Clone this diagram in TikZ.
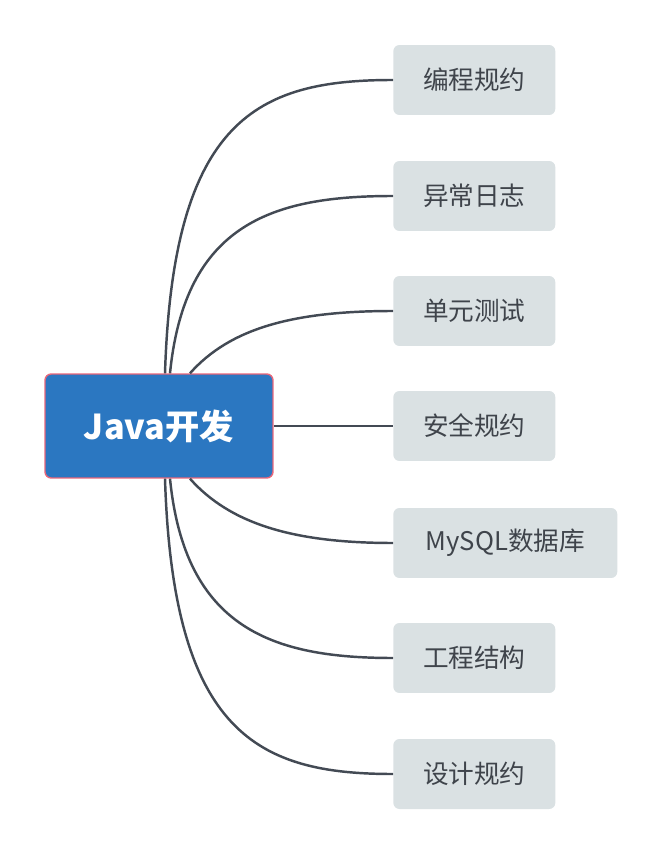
\documentclass[tikz,border=0pt]{standalone}
\usepackage{fontspec}
\setmainfont{Noto Sans CJK SC}
\definecolor{rootblue}{HTML}{2B77C1}
\definecolor{rootedge}{HTML}{E8667A}
\definecolor{leafgray}{HTML}{DAE1E3}
\definecolor{textgray}{HTML}{3F444B}
\definecolor{linegray}{HTML}{434A54}
\begin{document}
\begin{tikzpicture}[x=0.02cm, y=-0.02cm,
  rootbox/.style={fill=rootblue, draw=rootedge, line width=0.8pt, rounded corners=3.5pt,
    minimum width=4.56cm, minimum height=2.08cm, text=white, font=\bfseries\fontsize{19.5}{22}\selectfont},
  leaf/.style={fill=leafgray, rounded corners=3.5pt, anchor=west,
    minimum width=3.24cm, minimum height=1.4cm, text=textgray, font=\fontsize{14.6}{17}\selectfont},
  branch/.style={draw=linegray, line width=1.4pt}]
  \useasboundingbox (0,0) rectangle (662,854);
  \node[rootbox] (root) at (159,426) {Java开发};
  \node[leaf] (n1) at (393,80) {编程规约};
  \node[leaf] (n2) at (393,196) {异常日志};
  \node[leaf] (n3) at (393,311) {单元测试};
  \node[leaf] (n4) at (393,426) {安全规约};
  \node[leaf, minimum width=4.48cm] (n5) at (393,543) {MySQL数据库};
  \node[leaf] (n6) at (393,658) {工程结构};
  \node[leaf] (n7) at (393,774) {设计规约};
  % upper branches
  \draw[branch] ([xshift=0.12cm]root.north) .. controls +(8,-255) and +(-135,0) .. (n1.west);
  \draw[branch] ([xshift=0.22cm]root.north) .. controls +(15,-150) and +(-120,0) .. (n2.west);
  \draw[branch] ([xshift=0.62cm]root.north) .. controls +(40,-45) and +(-100,0) .. (n3.west);
  \draw[branch] (root.east) -- (n4.west);
  % lower branches
  \draw[branch] ([xshift=0.62cm]root.south) .. controls +(40,45) and +(-100,0) .. (n5.west);
  \draw[branch] ([xshift=0.22cm]root.south) .. controls +(15,150) and +(-120,0) .. (n6.west);
  \draw[branch] ([xshift=0.12cm]root.south) .. controls +(8,255) and +(-135,0) .. (n7.west);
\end{tikzpicture}
\end{document}
